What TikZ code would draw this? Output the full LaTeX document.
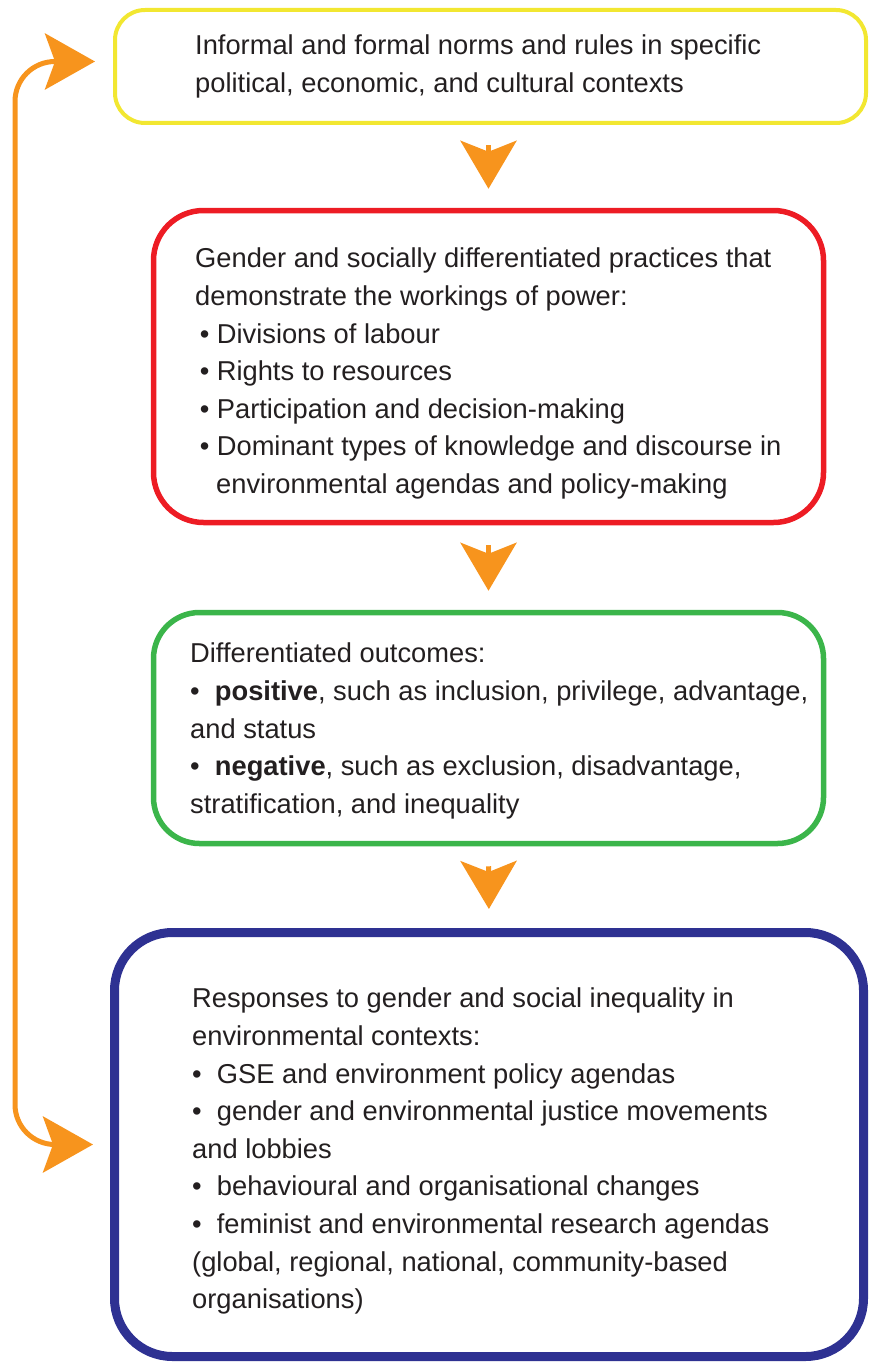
\documentclass[tikz,border=0pt]{standalone}
\usepackage{fontspec}
\setmainfont{Liberation Sans}
\usetikzlibrary{arrows.meta}

\definecolor{normyellow}{HTML}{F2E731}
\definecolor{practred}{HTML}{ED1C24}
\definecolor{outgreen}{HTML}{3BB54A}
\definecolor{respblue}{HTML}{2E3192}
\definecolor{flowwarm}{HTML}{F7941D}
\definecolor{inktext}{HTML}{231F20}

\begin{document}
\begin{tikzpicture}
[
	x=1pt,
	y=-1pt,
	box/.style={draw,rounded corners=#1,inner sep=0pt},
	boxtext/.style={anchor=north west,align=left,inner sep=0pt,text=inktext,
		font=\fontsize{27.3}{37.6}\selectfont},
	downflow/.style={draw=flowwarm,line width=5pt,
		-{Stealth[length=48pt,width=56pt,inset=11pt]},
		shorten <=20pt,shorten >=19pt},
	loopflow/.style={draw=flowwarm,line width=5pt,rounded corners=40pt,
		{Stealth[length=50pt,width=56pt,inset=10pt]}-{Stealth[length=50pt,width=56pt,inset=10pt]},
		shorten <=18pt,shorten >=17pt}
]

	\useasboundingbox (0,0) rectangle (871,1362);

	% boxes
	\node[box=30pt,draw=normyellow,line width=4pt,
		minimum width=751pt,minimum height=113pt] at (490.5,66.5) (norms) {};
	\node[box=50pt,draw=practred,line width=5.5pt,
		minimum width=670pt,minimum height=312pt] at (488.5,366.5) (practices) {};
	\node[box=46pt,draw=outgreen,line width=5.5pt,
		minimum width=670pt,minimum height=231pt] at (488.5,728) (outcomes) {};
	\node[box=58pt,draw=respblue,line width=9pt,
		minimum width=749pt,minimum height=424pt] at (489,1144.5) (responses) {};

	% texts
	\node[boxtext] at (195,35) (normstext)
		{Informal and formal norms and rules in specific\\
		 political, economic, and cultural contexts};
	\node[boxtext] at (195,248) (practicestext)
		{Gender and socially differentiated practices that\\
		 demonstrate the workings of power:\\
		 \,\textbullet\ Divisions of labour\\
		 \,\textbullet\ Rights to resources\\
		 \,\textbullet\ Participation and decision-making\\
		 \,\textbullet\ Dominant types of knowledge and discourse in\\
		 \hspace{21pt}environmental agendas and policy-making};
	\node[boxtext] at (190,643) (outcomestext)
		{Differentiated outcomes:\\
		 \textbullet\ \ \textbf{positive}, such as inclusion, privilege, advantage,\\
		 and status\\
		 \textbullet\ \ \textbf{negative}, such as exclusion, disadvantage,\\
		 stratification, and inequality};
	\node[boxtext] at (192,988) (responsestext)
		{Responses to gender and social inequality in\\
		 environmental contexts:\\
		 \textbullet\ \ GSE and environment policy agendas\\
		 \textbullet\ \ gender and environmental justice movements\\
		 and lobbies\\
		 \textbullet\ \ behavioural and organisational changes\\
		 \textbullet\ \ feminist and environmental research agendas\\
		 (global, regional, national, community-based\\
		 organisations)};

	% arrows down
	\draw[downflow] (norms.south -| practices.north) -- (practices.north);
	\draw[downflow] (practices.south) -- (outcomes.north);
	\draw[downflow] (outcomes.south) -- (responses.north);

	% feedback loop
	\draw[loopflow]
	  ([yshift=5pt]norms.west) -- ++(-98,0) |- (responses.west)
	;

\end{tikzpicture}
\end{document}
